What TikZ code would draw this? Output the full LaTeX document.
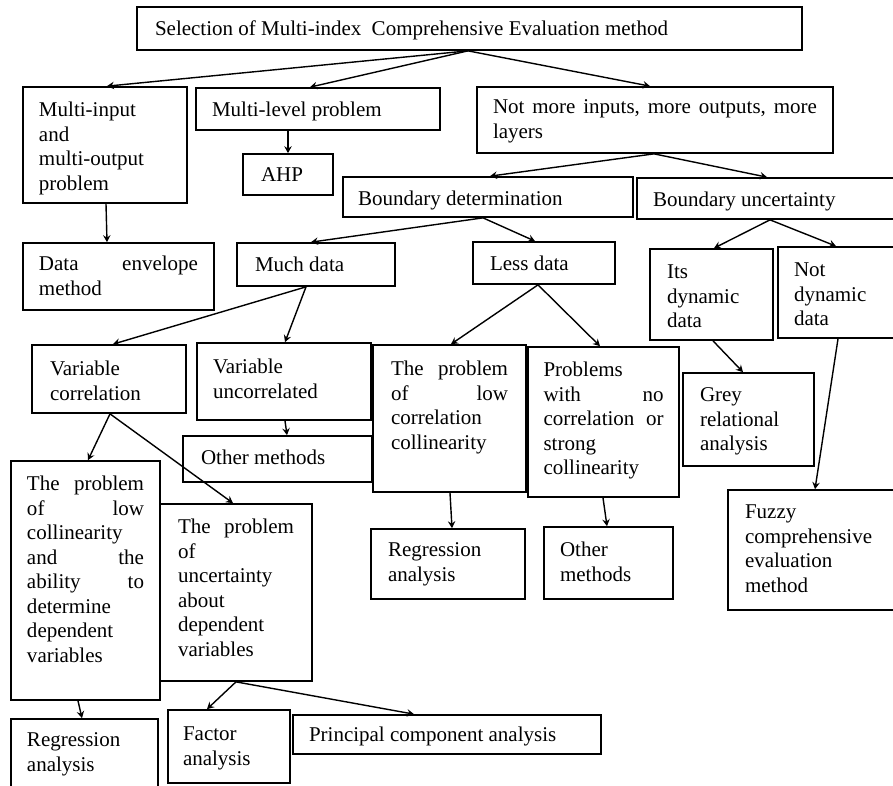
\documentclass[tikz,border=0pt]{standalone}
\usepackage{fontspec}
\setmainfont{Liberation Serif}
\usetikzlibrary{arrows.meta}
\tikzset{
  bxs/.style={draw, line width=1.7pt, inner sep=0pt, font=\fontsize{21}{24.5}\selectfont},
  arr/.style={line width=1.4pt, -{Stealth[length=7pt,width=7.5pt,inset=2.5pt]}}
}
% #1 name, #2 x1, #3 y1, #4 x2, #5 y2, #6 side padding, #7 cap-top offset, #8 text
\newcommand\bx[8]{%
  \node[bxs] (#1) at ({(#2+#4)/2},{(#3+#5)/2})
  {\parbox[c][\dimexpr#5pt-#3pt\relax][t]{\dimexpr#4pt-#2pt\relax}{%
   \leftskip=#6pt\rightskip=#6pt plus 1fil\parfillskip=0pt plus 1fil
   \rule{0pt}{\dimexpr#7pt+13.9pt\relax}#8}};}
\begin{document}
\begin{tikzpicture}[x=1pt,y=-1pt]
\fill[white] (0,0) rectangle (893,785);
\clip (0,0) rectangle (893,785);
% boxes
\bx{A}{137}{7}{802}{50}{18}{15}{Selection of Multi-index\hspace{5pt} Comprehensive Evaluation method}
\bx{B}{23}{87}{187}{203}{16}{16}{Multi-input\\and\\multi-output\\problem}
\bx{C}{196}{88}{440}{130}{16}{15}{Multi-level problem}
\bx{AHP}{243}{154}{333}{195}{18}{14}{AHP}
\bx{D}{477}{87}{833}{153}{16}{13}{Not\hfill more\hfill inputs,\hfill more\hfill outputs,\hfill more\\layers}
\bx{E}{343}{177}{633}{217}{15}{15}{Boundary determination}
\bx{F}{637}{178}{900}{219}{16}{15}{Boundary uncertainty}
\bx{G}{23}{243}{214}{310}{16}{14}{Data\hfill envelope\\method}
\bx{H}{237}{243}{395}{286}{18}{15}{Much data}
\bx{I}{473}{242}{615}{284}{17}{15}{Less data}
\bx{J}{650}{249}{773}{340}{17}{16}{Its\\dynamic\\data}
\bx{K}{778}{247}{900}{338}{16}{16}{Not\\dynamic\\data}
\bx{L}{32}{345}{186}{413}{18}{17}{Variable\\correlation}
\bx{M}{197}{343}{371}{420}{16}{17}{Variable\\uncorrelated}
\bx{N}{373}{345}{526}{492}{18}{17}{The\hfill problem\\of\hfill low\\correlation\\collinearity}
\bx{O}{528}{347}{679}{497}{15.5}{16}{Problems\\with\hfill no\\correlation\hfill or\\strong\\collinearity}
\bx{P}{683}{373}{814}{466}{17}{15}{Grey\\relational\\analysis}
\bx{Q}{183}{436}{372}{482}{18}{15}{Other methods}
\bx{R}{371}{529}{525}{599}{17}{14}{Regression\\analysis}
\bx{S}{544}{527}{673}{599}{16}{16}{Other\\methods}
\bx{T}{728}{490}{900}{610}{17}{15}{Fuzzy\\comprehensive\\evaluation\\method}
\bx{U}{11}{461}{160}{700}{16}{16}{The\hfill problem\\of\hfill low\\collinearity\\and\hfill the\\ability\hfill to\\determine\\dependent\\variables}
\bx{V}{160}{504}{312}{681}{18}{16}{The\hfill problem\\of\\uncertainty\\about\\dependent\\variables}
\bx{W}{11}{719}{158}{795}{16}{14}{Regression\\analysis}
\bx{X}{168}{710}{290}{783}{15}{17}{Factor\\analysis}
\bx{Y}{293}{715}{601}{754}{16}{13}{Principal component analysis}
% connectors
\draw[arr] ([xshift=-1.5pt]A.south) -- ([xshift=2pt]B.north);
\draw[arr] ([xshift=-1.5pt]A.south) -- ([xshift=-8pt]C.north);
\draw[arr] ([xshift=-1.5pt]A.south) -- ([xshift=-5pt]D.north);
\draw[arr] ([xshift=-30pt]C.south) -- (AHP.north);
\draw[arr] ([xshift=1pt]B.south) -- ([xshift=-11.5pt]G.north);
\draw[arr] ([xshift=-1pt]D.south) -- ([xshift=2pt]E.north);
\draw[arr] ([xshift=-1pt]D.south) -- ([xshift=-1.5pt]F.north);
\draw[arr] ([xshift=-5pt]E.south) -- ([xshift=-5pt]H.north);
\draw[arr] ([xshift=-5pt]E.south) -- ([xshift=-9pt]I.north);
\draw[arr] ([xshift=1.5pt]F.south) -- ([xshift=2.5pt]J.north);
\draw[arr] ([xshift=1.5pt]F.south) -- ([xshift=-3pt]K.north);
\draw[arr] ([xshift=-10pt]H.south) -- ([xshift=4pt]L.north);
\draw[arr] ([xshift=-10pt]H.south) -- ([xshift=1pt]M.north);
\draw[arr] ([xshift=-6pt]I.south) -- ([xshift=1.5pt]N.north);
\draw[arr] ([xshift=-6pt]I.south) -- ([xshift=-3.5pt]O.north);
\draw[arr] ([xshift=1.5pt]J.south) -- ([xshift=-5.5pt]P.north);
\draw[arr] ([xshift=-1pt]K.south) -- ([xshift=1pt]T.north);
\draw[arr] ([xshift=1pt]M.south) -- ([xshift=9.5pt]Q.north);
\draw[arr] ([xshift=0.5pt]N.south) -- ([xshift=4pt]R.north);
\draw[arr] ([xshift=-0.5pt]O.south) -- ([xshift=-1.5pt]S.north);
\draw[arr] ([xshift=1pt]L.south) -- ([xshift=2.5pt]U.north);
\draw[arr] ([xshift=1pt]L.south) -- ([xshift=-3pt]V.north);
\draw[arr] ([xshift=-7.5pt]U.south) -- ([xshift=-2.5pt]W.north);
\draw[arr] (V.south) -- ([xshift=-22pt]X.north);
\draw[arr] (V.south) -- ([xshift=-33pt]Y.north);
\end{tikzpicture}
\end{document}
